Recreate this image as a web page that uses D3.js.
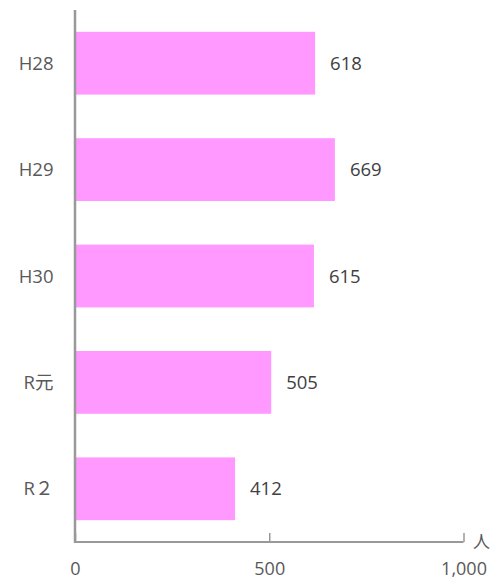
<!DOCTYPE html>
<html>
<head>
<meta charset="utf-8">
<script src="https://cdn.jsdelivr.net/npm/d3@7"></script>
<style>
  body { margin: 0; background: #fff; }
  text { font-family: "Open Sans", "Noto Sans CJK JP", sans-serif; }
</style>
</head>
<body>
<svg id="chart" width="491" height="580"></svg>
<script>
var categories = ["H28", "H29", "H30", "R元", "R２"];
var values = [618, 669, 615, 505, 412];
var tickValues = [0, 500, 1000];
var unitLabel = "人";

var svg = d3.select("#chart");
var plotLeft = 75, plotRight = 463.5, plotTop = 10, plotBottom = 542;

var x = d3.scaleLinear().domain([0, 1000]).range([plotLeft, plotRight]);
var y = d3.scaleBand().domain(categories).range([plotTop, plotBottom])
    .paddingInner(0.41).paddingOuter(0.205);

// bars
svg.selectAll("rect.bar")
    .data(values)
    .enter()
    .append("rect")
    .attr("class", "bar")
    .attr("x", x(0))
    .attr("y", function(d, i) { return y(categories[i]); })
    .attr("width", function(d) { return x(d) - x(0); })
    .attr("height", y.bandwidth())
    .style("fill", "#ff99ff");

// value labels
svg.selectAll("text.val")
    .data(values)
    .enter()
    .append("text")
    .attr("class", "val")
    .attr("x", function(d) { return x(d) + 15; })
    .attr("y", function(d, i) { return y(categories[i]) + y.bandwidth() / 2; })
    .attr("dy", "0.36em")
    .attr("font-size", "18.5px")
    .style("fill", "#404040")
    .text(function(d) { return d; });

// category labels
svg.selectAll("text.cat")
    .data(categories)
    .enter()
    .append("text")
    .attr("class", "cat")
    .attr("x", 53.5)
    .attr("y", function(d) { return y(d) + y.bandwidth() / 2; })
    .attr("dy", "0.36em")
    .attr("text-anchor", "end")
    .attr("font-size", "18.5px")
    .style("fill", "#595959")
    .text(function(d) { return d; });

// x axis
var xAxis = d3.axisBottom(x).tickValues(tickValues).tickSize(-9)
    .tickFormat(d3.format(","));
var gx = svg.append("g")
    .attr("transform", "translate(0," + plotBottom + ")")
    .call(xAxis);
gx.select(".domain").remove();
gx.append("line")
    .attr("x1", x(0)).attr("x2", x(1000))
    .attr("stroke", "#999").attr("stroke-width", 2);
gx.selectAll(".tick line").attr("stroke", "#999").attr("stroke-width", 1.5);
gx.selectAll(".tick text")
    .attr("y", 20)
    .attr("dy", "0.71em")
    .attr("font-size", "18px")
    .attr("font-family", "Open Sans, sans-serif")
    .style("fill", "#595959");

// y axis line
svg.append("line")
    .attr("x1", x(0)).attr("x2", x(0))
    .attr("y1", plotTop).attr("y2", plotBottom + 1)
    .attr("stroke", "#999").attr("stroke-width", 2.5);

// unit
svg.append("text")
    .attr("x", 473)
    .attr("y", plotBottom - 1)
    .attr("dy", "0.4em")
    .attr("font-size", "17px")
    .style("fill", "#595959")
    .text(unitLabel);
</script>
</body>
</html>
